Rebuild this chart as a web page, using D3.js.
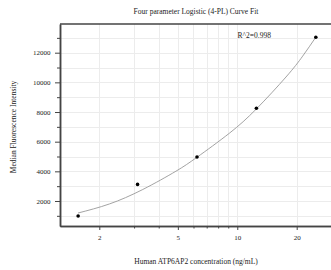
<!DOCTYPE html>
<html>
<head>
<meta charset="utf-8">
<script src="https://cdn.jsdelivr.net/npm/d3@7"></script>
<style>
html,body{margin:0;padding:0;background:#fff;}
svg{display:block;}
text{font-family:"Liberation Serif","Times New Roman",serif;fill:#222;}
</style>
</head>
<body>
<svg id="chart" width="331" height="270"></svg>
<script>
// ---- data ----
const concentration = [1.5625, 3.125, 6.25, 12.5, 25];
const mfi = [990, 3120, 4970, 8250, 13040];
// fitted 4-PL curve
const fitConc = [1.56, 2.25, 3.32, 4.89, 6.25, 9.11, 12.5, 17.65, 21.45, 25];
const fitMfi = [1190, 1800, 2775, 4010, 4950, 6565, 8210, 10360, 11770, 13045];
const xTickValues = [2, 5, 10, 20];
const xMinorTicks = [3, 4, 6, 7, 8, 9];
const xGridValues = [2, 3, 4, 5, 6, 7, 8, 9, 10, 20];
const yTickValues = [2000, 4000, 6000, 8000, 10000, 12000];
const yMinorTicks = [1000, 3000, 5000, 7000, 9000, 11000, 13000];
const chartTitle = "Four parameter Logistic (4-PL) Curve Fit";
const xTitle = "Human ATP6AP2 concentration (ng/mL)";
const yTitle = "Median Fluorescence Intensity";
const r2Label = "R^2=0.998";

// ---- layout ----
const L = 60, R = 331, T = 24, B = 226;
const svg = d3.select("#chart");

const x = d3.scaleLog().domain([1.2645, 29.84]).range([L, R]);
const y = d3.scaleLinear().domain([314, 13935]).range([B, T]);

// grid
const grid = svg.append("g").attr("stroke", "#ececec").attr("stroke-width", 1);
grid.selectAll("line.h").data(yMinorTicks.concat(yTickValues)).join("line")
  .attr("x1", L).attr("x2", R)
  .attr("y1", d => Math.round(y(d)) + 0.5).attr("y2", d => Math.round(y(d)) + 0.5);
grid.selectAll("line.v").data(xGridValues).join("line")
  .attr("y1", T).attr("y2", B)
  .attr("x1", d => Math.round(x(d)) + 0.5).attr("x2", d => Math.round(x(d)) + 0.5);

// fitted curve
const line = d3.line().x((d, i) => x(fitConc[i])).y((d, i) => y(fitMfi[i])).curve(d3.curveNatural);
svg.append("path").datum(fitMfi).attr("d", line)
  .attr("fill", "none").attr("stroke", "#999").attr("stroke-width", 0.9);

// points
svg.append("g").selectAll("circle").data(mfi).join("circle")
  .attr("cx", (d, i) => x(concentration[i])).attr("cy", d => y(d))
  .attr("r", 1.8).attr("fill", "#000");

// axes
const axisColor = "#444";
const xAxis = svg.append("g").attr("transform", `translate(0,${B})`)
  .call(d3.axisBottom(x).tickValues(xTickValues).tickFormat(d3.format("d")).tickSize(4).tickSizeOuter(0));
const xMinor = svg.append("g").attr("transform", `translate(0,${B})`)
  .call(d3.axisBottom(x).tickValues(xMinorTicks).tickFormat("").tickSize(2.5).tickSizeOuter(0));
const yAxis = svg.append("g").attr("transform", `translate(${L},0)`)
  .call(d3.axisLeft(y).tickValues(yTickValues).tickFormat(d3.format("d")).tickSize(5).tickSizeOuter(0));
const yMinor = svg.append("g").attr("transform", `translate(${L},0)`)
  .call(d3.axisLeft(y).tickValues(yMinorTicks).tickFormat("").tickSize(3).tickSizeOuter(0));

[xAxis, xMinor, yAxis, yMinor].forEach(g => {
  g.select(".domain").attr("stroke", axisColor).attr("stroke-width", 1.5);
  g.selectAll(".tick line").attr("stroke", axisColor).attr("stroke-width", 1);
  g.selectAll(".tick text").attr("font-family", '"Liberation Serif",serif').attr("font-size", 7).attr("fill", "#222");
});
xAxis.selectAll(".tick text").attr("dy", null).attr("y", 14);
yAxis.selectAll(".tick text").attr("x", -9.5);

// top border
svg.append("line").attr("x1", L).attr("x2", R + 2).attr("y1", T).attr("y2", T)
  .attr("stroke", axisColor).attr("stroke-width", 1.5);

// texts
svg.append("text").attr("x", 196).attr("y", 13.5).attr("text-anchor", "middle")
  .attr("font-size", 7.5).text(chartTitle);
svg.append("text").attr("x", 196).attr("y", 264).attr("text-anchor", "middle")
  .attr("font-size", 7.5).text(xTitle);
svg.append("text").attr("transform", "translate(15.5,127) rotate(-90)").attr("text-anchor", "middle")
  .attr("font-size", 7.5).text(yTitle);
svg.append("text").attr("x", 237.5).attr("y", 38.3).attr("font-size", 7.5).text(r2Label);
</script>
</body>
</html>
